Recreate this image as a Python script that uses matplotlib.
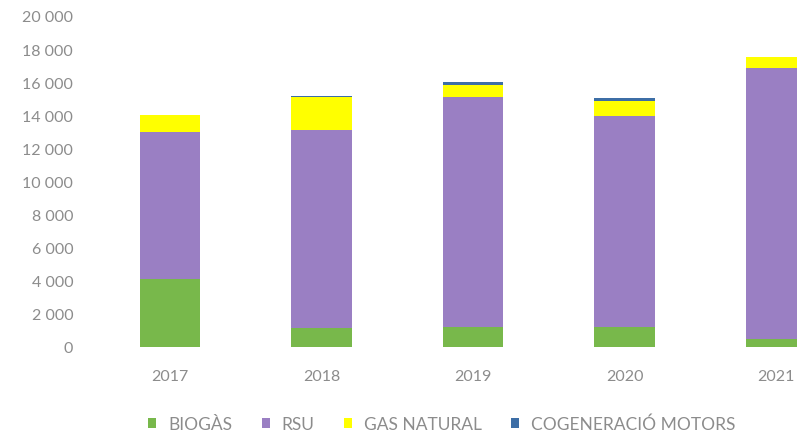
import matplotlib.pyplot as plt
import numpy as np

years = ["2017", "2018", "2019", "2020", "2021"]
biogas = [4100, 1150, 1200, 1200, 500]
rsu = [8900, 11950, 13900, 12750, 16350]
gas_natural = [1000, 2000, 750, 900, 650]
cogeneracio = [0, 80, 170, 170, 0]

labels = ["BIOGÀS", "RSU", "GAS NATURAL", "COGENERACIÓ MOTORS"]
colors = ["#78b84b", "#9a7fc3", "#ffff00", "#3d6ea6"]

plt.rcParams["font.family"] = ["Lato", "DejaVu Sans"]
txt = "#8c8c8c"

fig = plt.figure(figsize=(7.97, 4.39), dpi=100)
# axes runs past the right edge, like the cropped original
ax = fig.add_axes([0.118, 0.2073, 0.951, 0.754])

x = np.arange(len(years))
w = 0.4
bottom = np.zeros(len(years))
for vals, lab, col in zip([biogas, rsu, gas_natural, cogeneracio], labels, colors):
    ax.bar(x, vals, w, bottom=bottom, color=col, label=lab, linewidth=0)
    bottom += np.array(vals)

ax.set_xlim(-0.5, 4.5)
ax.set_ylim(0, 20000)
ax.set_yticks(range(0, 20001, 2000))
ax.set_yticklabels([f"{v:,}".replace(",", " ") for v in range(0, 20001, 2000)])
ax.set_xticks(x)
ax.set_xticklabels(years)
ax.tick_params(axis="y", length=0, pad=15, labelsize=11.5, labelcolor=txt)
ax.tick_params(axis="x", length=0, pad=16, labelsize=11.5, labelcolor=txt)
for s in ax.spines.values():
    s.set_visible(False)

fig.legend(loc="center", bbox_to_anchor=(442 / 797, 1 - 425 / 439), ncol=4,
           frameon=False, fontsize=12.5, labelcolor=txt, handlelength=0.45,
           handleheight=0.45, handletextpad=0.7, columnspacing=1.7)

fig.savefig("out.png", dpi=100)
